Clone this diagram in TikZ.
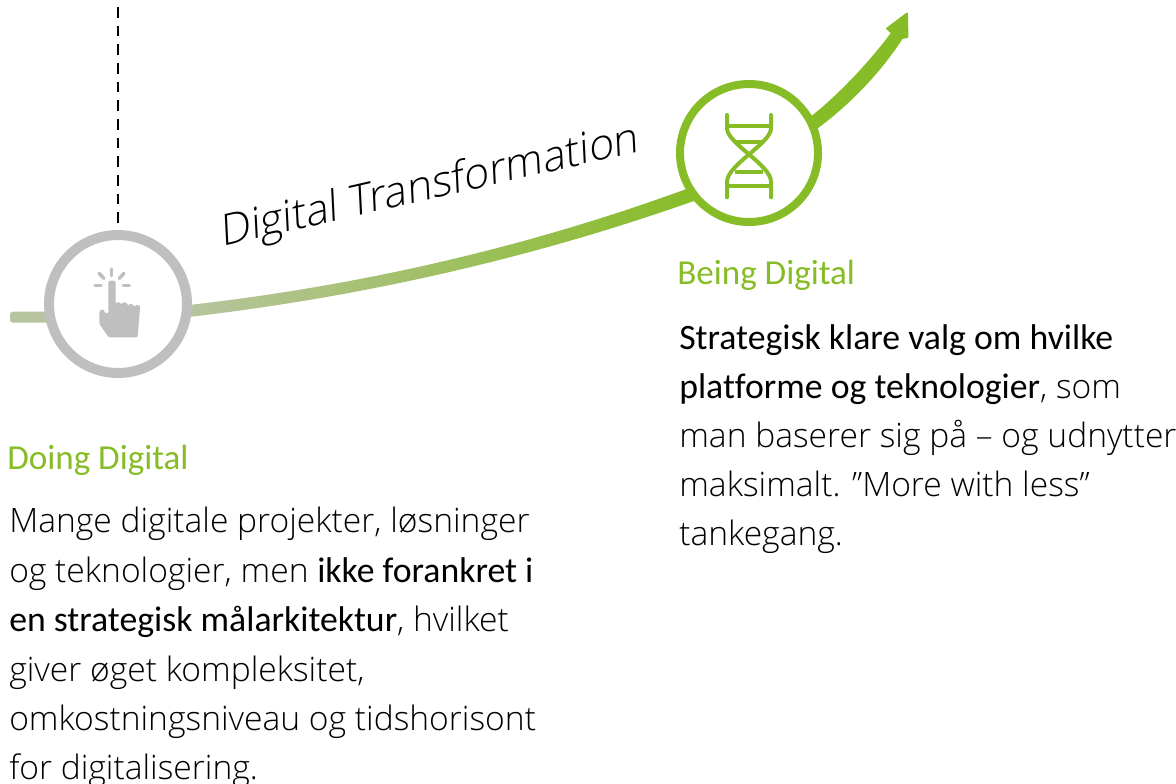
\documentclass[tikz,border=0pt]{standalone}
\usepackage{fontspec}
\setmainfont{Open Sans Light}
\newfontfamily\regfont[Ligatures=CommonOff]{Carlito}
\usetikzlibrary{calc}
\definecolor{dgreen}{HTML}{86BC25}
\definecolor{dgray}{HTML}{BFBFBF}
\definecolor{dstub}{HTML}{B8C4A0}
\newcommand{\bodyline}[3]{\node[bodytext] (#1) at (#2) {#3};}
\newcommand{\emphtext}[1]{{\regfont\fontsize{26.8pt}{30pt}\selectfont #1}}
\tikzset{
  x=0.75pt,y=-0.75pt,
  ring/.style={circle,draw,fill=white,line width=7.5pt,minimum size=103.5pt,inner sep=0pt},
  bodytext/.style={anchor=base west,inner sep=0pt,font=\fontsize{25.2pt}{30pt}\selectfont},
  headtext/.style={anchor=base west,inner sep=0pt,text=dgreen,font=\regfont\fontsize{26.3pt}{30pt}\selectfont},
  zoomed/.style={x=0.25pt,y=-0.25pt},
  iconline/.style={line width=#1,line cap=round}
}
\begin{document}
\begin{tikzpicture}
\useasboundingbox (0,0) rectangle (1176,783);
% dashed
\coordinate (dashtop) at (118,7);
\coordinate (dashend) at (118,224);
\draw[line width=2pt,dash pattern=on 8pt off 6pt] (dashtop) -- (dashend);
% gradient curve
\shade[left color=dstub,right color=dgreen,shading angle=90]
  (180,306) .. controls (353,287) and (527,248.5) .. (700,184)
  -- (705,197) .. controls (530,260) and (353,298.5) .. (180,318) -- cycle;
% stub
\fill[dstub,rounded corners=2pt] (10,311.7) rectangle (60,322.7);
% right arrow
\filldraw[dgreen,line width=1.4pt,line join=round] (805,122) .. controls (835,100) and (868,65) .. (892,33)
  -- (887,28.5) -- (907,13.5) -- (907.5,37) -- (902,38)
  .. controls (878,75) and (845,108) .. (811,132) -- cycle;
% circles
\node[ring,draw=dgray] (doing) at (118,304) {};
\node[ring,draw=dgreen,line width=6pt] (being) at (749,153) {};
% hand icon
\begin{scope}[shift={(0,200)},zoomed]
  \fill[dgray,rounded corners=1pt] (325,250) .. controls (325,240) and (347,240) .. (347,250) -- (347,312)
   .. controls (352,305) and (360,305) .. (364,315) .. controls (368,305) and (380,305) .. (384,318)
   .. controls (390,308) and (400,310) .. (402,322) .. controls (408,312) and (420,315) .. (420,325)
   -- (413,412) -- (326,412) -- (298,372) -- (298,340) .. controls (300,328) and (312,325) .. (315,340)
   -- (325,340) -- cycle;
  \draw[dgray,iconline=2.6pt] (335,207) -- (335,227);
  \draw[dgray,iconline=2.6pt] (297,220) -- (312,235);
  \draw[dgray,iconline=2.6pt] (372,220) -- (358,235);
  \draw[dgray,iconline=2.6pt] (285,256) -- (303,256);
  \draw[dgray,iconline=2.6pt] (370,256) -- (388,256);
\end{scope}
% dna icon
\begin{scope}[shift={(660,0)},zoomed]
  \draw[dgreen,iconline=3pt] (201,345) -- (201,385) .. controls (201,430) and (333,495) .. (333,545) -- (333,592);
  \draw[dgreen,iconline=3pt] (333,345) -- (333,385) .. controls (333,430) and (201,495) .. (201,545) -- (201,592);
  \draw[dgreen,line width=3pt] (201,378) -- (333,378);
  \draw[dgreen,line width=3pt] (225,425) -- (310,425);
  \draw[dgreen,line width=3pt] (225,515) -- (310,515);
  \draw[dgreen,line width=3pt] (201,558) -- (333,558);
\end{scope}
% title: baseline rises about 12.8 degrees, stems lean only slightly
\begin{scope}[shift={(431,199)},cm={0.975,0.222,-0.05,1,(0,0)}]
  \node[transform shape,anchor=base,inner sep=0pt,font=\fontsize{32.5pt}{36pt}\selectfont] (title) at (0,0) {Digital Transformation};
\end{scope}
% left text
\node[headtext] (h1) at (7,469) {Doing Digital};
\bodyline{l1}{9,532}{Mange digitale projekter, løsninger}
\bodyline{l2}{9,582}{og teknologier, men \emphtext{ikke forankret i}}
\bodyline{l3}{9,631}{\emphtext{en strategisk målarkitektur}, hvilket}
\bodyline{l4}{9,681}{giver øget kompleksitet,}
\bodyline{l5}{9,730}{omkostningsniveau og tidshorisont}
\bodyline{l6}{9,779}{for digitalisering.}
% right text
\node[headtext] (h2) at (677,284) {Being Digital};
\bodyline{r1}{679,349}{\emphtext{Strategisk klare valg om hvilke}}
\bodyline{r2}{679,398}{\emphtext{platforme og teknologier}, som}
\bodyline{r3}{679,447}{man baserer sig på – og udnytter}
\bodyline{r4}{679,496}{maksimalt. ”More with less”}
\bodyline{r5}{679,545}{tankegang.}
\end{tikzpicture}
\end{document}
